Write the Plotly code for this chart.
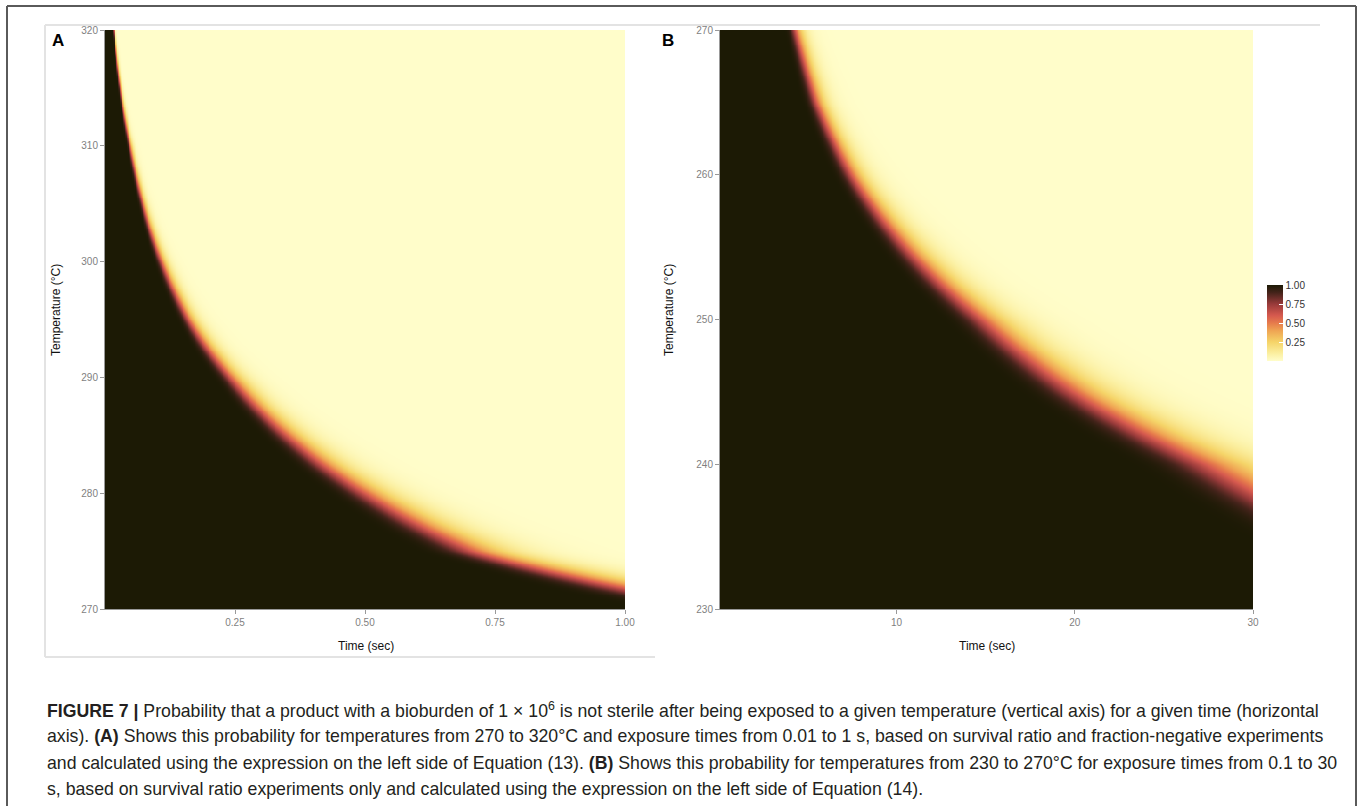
import numpy as np
import plotly.graph_objects as go

W, H = 1360, 806

# ---- data ----
# Panel A: temperature (°C) vs time (s) at which P(not sterile) ~ 0.5
a_temp = [272, 275, 280, 285, 290, 295, 300, 305, 310, 315, 320]
a_t50 = [1.00, 0.72, 0.51, 0.356, 0.246, 0.163, 0.11, 0.073, 0.048, 0.029, 0.017]
# Panel B
b_temp = [238.5, 240, 245, 250, 255, 260, 265, 270]
b_t50 = [30.0, 27.9, 20.3, 15.1, 10.7, 7.6, 5.6, 4.4]
bioburden = 1e6

a_xticks = [0.25, 0.50, 0.75, 1.00]
a_xticklabels = ["0.25", "0.50", "0.75", "1.00"]
a_yticks = [270, 280, 290, 300, 310, 320]
b_xticks = [10, 20, 30]
b_yticks = [230, 240, 250, 260, 270]
cb_ticks = [0.25, 0.50, 0.75, 1.00]
cb_ticklabels = ["0.25", "0.50", "0.75", "1.00"]

caption_lines = [
    "<b>FIGURE 7 |</b> Probability that a product with a bioburden of 1 × 10<sup>6</sup> is not sterile after being exposed to a given temperature (vertical axis) for a given time (horizontal",
    "axis). <b>(A)</b> Shows this probability for temperatures from 270 to 320°C and exposure times from 0.01 to 1 s, based on survival ratio and fraction-negative experiments",
    "and calculated using the expression on the left side of Equation (13). <b>(B)</b> Shows this probability for temperatures from 230 to 270°C for exposure times from 0.1 to 30",
    "s, based on survival ratio experiments only and calculated using the expression on the left side of Equation (14).",
]


def prob_grid(tvals, Tvals, temps, t50s, n0):
    temps = np.asarray(temps, float)
    lt = np.log10(np.asarray(t50s, float))
    order = np.argsort(temps)
    ts, ls = temps[order], lt[order]
    log_t50 = np.interp(Tvals, ts, ls)
    slope_lo = (ls[1] - ls[0]) / (ts[1] - ts[0])
    slope_hi = (ls[-1] - ls[-2]) / (ts[-1] - ts[-2])
    log_t50 = np.where(Tvals < ts[0], ls[0] + slope_lo * (Tvals - ts[0]), log_t50)
    log_t50 = np.where(Tvals > ts[-1], ls[-1] + slope_hi * (Tvals - ts[-1]), log_t50)
    t50 = 10 ** log_t50
    D = t50 / np.log10(n0 / np.log(2))
    TT, DD = np.meshgrid(tvals, D)
    expo = np.clip(np.log10(n0) - TT / DD, -30, 30)
    return 1 - np.exp(-10 ** expo)


ta = np.linspace(0.0, 1.0, 300)
Ta = np.linspace(270, 320, 300)
za = prob_grid(ta, Ta, a_temp, a_t50, bioburden)
tb = np.linspace(0.1, 30, 300)
Tb = np.linspace(230, 270, 300)
zb = prob_grid(tb, Tb, b_temp, b_t50, bioburden)

cscale = [
    [0.0, "#FFFDCA"],
    [0.1, "#FBEFA0"],
    [0.25, "#F5D468"],
    [0.4, "#EFA453"],
    [0.5, "#E67B4C"],
    [0.6, "#D5594E"],
    [0.75, "#983A3A"],
    [0.9, "#44231A"],
    [1.0, "#1C1A05"],
]


def px(x):
    return x / W


def py(y):
    return 1 - y / H


fig = go.Figure()
fig.add_trace(go.Heatmap(x=ta, y=Ta, z=za, colorscale=cscale, zmin=0, zmax=1,
                         zsmooth="best", xaxis="x", yaxis="y", showscale=False))
fig.add_trace(go.Heatmap(
    x=tb, y=Tb, z=zb, colorscale=cscale, zmin=0, zmax=1, zsmooth="best",
    xaxis="x2", yaxis="y2", showscale=True,
    colorbar=dict(
        x=px(1267), xanchor="left", xref="paper", y=py(285), yanchor="top", yref="paper",
        len=76, lenmode="pixels", thickness=16, thicknessmode="pixels",
        outlinewidth=0, tickvals=cb_ticks, ticktext=cb_ticklabels,
        ticks="inside", ticklen=4, tickcolor="white", tickwidth=1,
        tickfont=dict(family="Liberation Sans Narrow, Liberation Sans, Arial", size=10, color="#333333"),
        xpad=0, ypad=0,
    ),
))

tickfont = dict(family="Liberation Sans Narrow, Liberation Sans, Arial", size=10, color="#7F7F7F")
axcommon = dict(showgrid=False, zeroline=False, ticks="outside", ticklen=4, tickcolor="#999999",
                showline=True, linecolor="#999999", linewidth=1, tickfont=tickfont,
                automargin=False)

fig.update_layout(
    template="none",
    width=W, height=H, margin=dict(l=0, r=0, t=0, b=0, pad=0, autoexpand=False),
    paper_bgcolor="white", plot_bgcolor="white", showlegend=False,
    xaxis=dict(domain=[px(105), px(625)], range=[0.0, 1.0], tickvals=a_xticks,
               ticktext=a_xticklabels, anchor="y", **axcommon),
    yaxis=dict(domain=[py(609), py(30)], range=[270, 320], tickvals=a_yticks,
               anchor="x", **axcommon),
    xaxis2=dict(domain=[px(720), px(1253)], range=[0.1, 30], tickvals=b_xticks,
                anchor="y2", **axcommon),
    yaxis2=dict(domain=[py(609), py(30)], range=[230, 270], tickvals=b_yticks,
                anchor="x2", **axcommon),
)

# frames
shapes = [
    dict(type="line", x0=px(7), x1=px(7), y0=py(6), y1=py(806), line=dict(color="#5A5A5A", width=2)),
    dict(type="line", x0=px(7), x1=px(1356), y0=py(6), y1=py(6), line=dict(color="#5A5A5A", width=2)),
    dict(type="line", x0=px(1356), x1=px(1356), y0=py(6), y1=py(806), line=dict(color="#5A5A5A", width=2)),
    dict(type="line", x0=px(45), x1=px(1320), y0=py(25), y1=py(25), line=dict(color="#E3E3E3", width=2)),
    dict(type="line", x0=px(45), x1=px(45), y0=py(25), y1=py(657), line=dict(color="#E3E3E3", width=2)),
    dict(type="line", x0=px(45), x1=px(655), y0=py(657), y1=py(657), line=dict(color="#E3E3E3", width=2)),
]
for s in shapes:
    s.update(xref="paper", yref="paper")
fig.update_layout(shapes=shapes)

lab = dict(family="Liberation Sans, Arial", size=17, color="black")
titlefont = dict(family="Liberation Sans Narrow, Liberation Sans, Arial", size=12, color="#111111")
annots = [
    dict(text="<b>A</b>", x=px(50), y=py(40), xanchor="left", yanchor="middle", font=lab),
    dict(text="<b>B</b>", x=px(660), y=py(40), xanchor="left", yanchor="middle", font=lab),
    dict(text="Temperature (°C)", x=px(56), y=py(310), textangle=-90, xanchor="center", yanchor="middle", font=titlefont),
    dict(text="Temperature (°C)", x=px(669), y=py(310), textangle=-90, xanchor="center", yanchor="middle", font=titlefont),
    dict(text="Time (sec)", x=px(366), y=py(646), xanchor="center", yanchor="middle", font=titlefont),
    dict(text="Time (sec)", x=px(987), y=py(646), xanchor="center", yanchor="middle", font=titlefont),
]
cap_font = dict(family="Liberation Sans, Arial", size=17.7, color="#231F20")
for i, line in enumerate(caption_lines):
    annots.append(dict(text=line, x=px(45), y=py(710 + i * 26.3), xanchor="left", yanchor="middle",
                       font=cap_font, align="left"))
for a in annots:
    a.update(xref="paper", yref="paper", showarrow=False)
fig.update_layout(annotations=annots)

fig.write_html("out.html", config={"displayModeBar": False},
               post_script="document.body.style.margin='0';document.body.style.overflow='hidden';")
